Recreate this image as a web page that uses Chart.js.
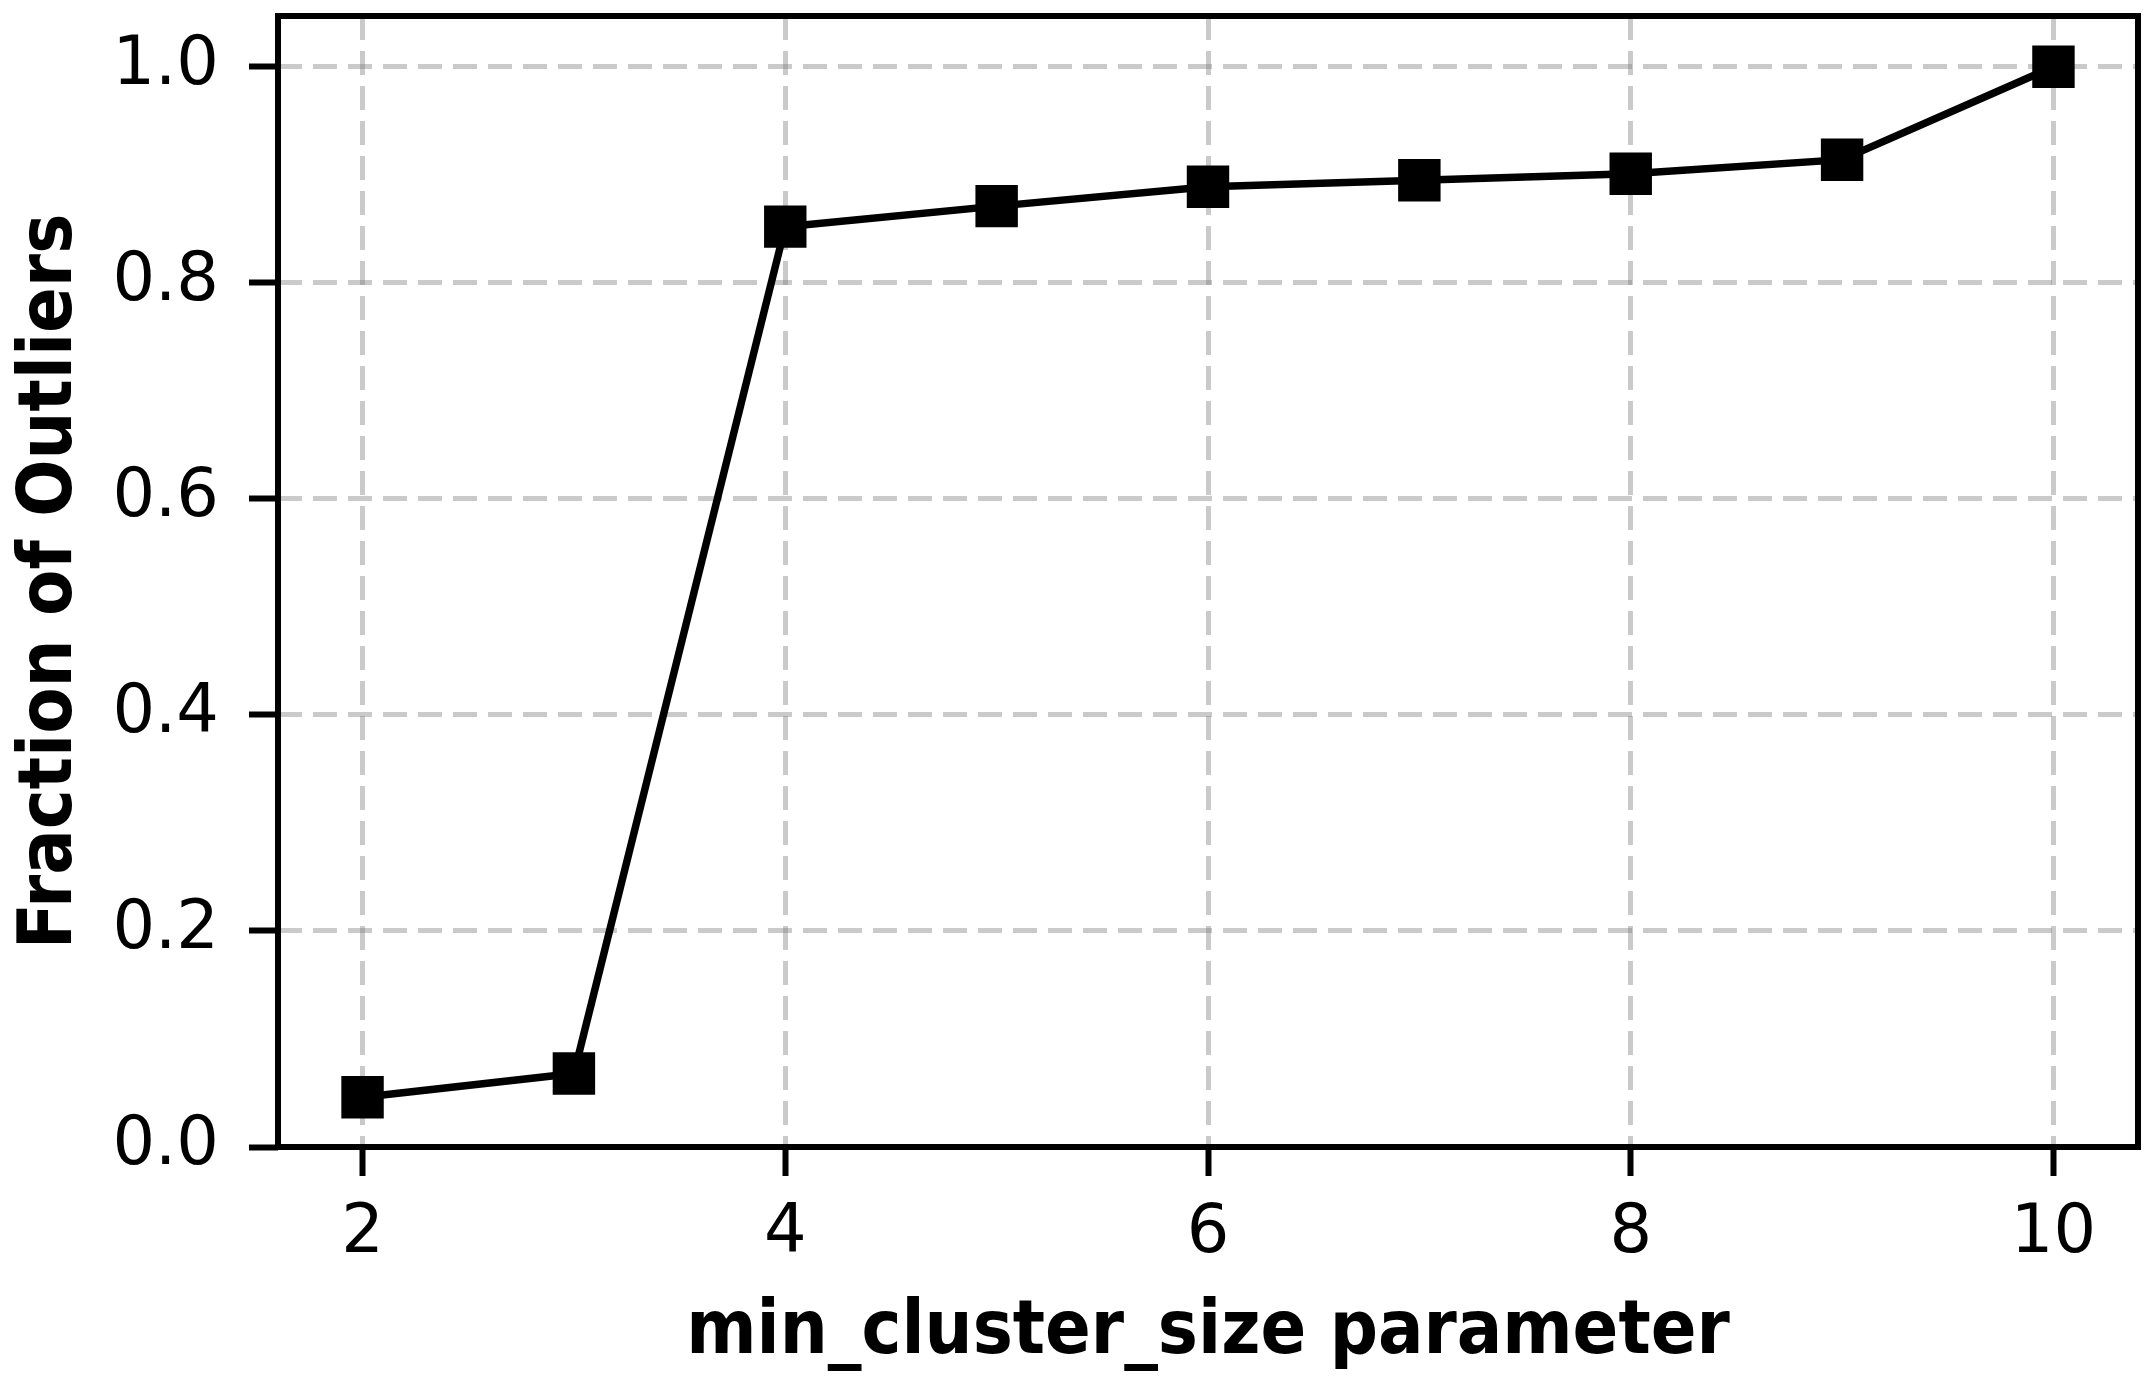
<!DOCTYPE html>
<html>
<head>
<meta charset="utf-8">
<script src="https://cdn.jsdelivr.net/npm/chart.js@4/dist/chart.umd.min.js"></script>
<style>
  body { margin: 0; background: #fff; }
  canvas { display: block; }
</style>
</head>
<body>
<canvas id="outlierChart" width="2155" height="1379"></canvas>
<script>
// values
const minClusterSize = [2, 3, 4, 5, 6, 7, 8, 9, 10];
const outlierFraction = [0.046, 0.068, 0.852, 0.871, 0.889, 0.895, 0.901, 0.914, 1.0];
const xTickValues = [2, 4, 6, 8, 10];
const yTickValues = [0.0, 0.2, 0.4, 0.6, 0.8, 1.0];

const FONT = "'DejaVu Sans', sans-serif";
// the axis titles in the reference are set in the condensed cut
const TITLE_FONT = "'DejaVu Sans Condensed', 'DejaVu Sans', sans-serif";

// all four spines, drawn on top like matplotlib does
const frameBox = {
    id: "frameBox",
    afterDatasetsDraw(chart) {
        const a = chart.chartArea;
        const ctx = chart.ctx;
        ctx.save();
        ctx.strokeStyle = "#000";
        ctx.lineWidth = 6;
        ctx.setLineDash([]);
        ctx.strokeRect(a.left, a.top, a.right - a.left, a.bottom - a.top);
        ctx.restore();
    }
};

const gridStyle = {
    color: "rgba(128, 128, 128, 0.42)",
    lineWidth: 5,
    tickColor: "#000",
    tickWidth: 6,
    tickLength: 29,
    tickBorderDash: []
};

// v4 takes the grid line dash from border.dash
const borderStyle = { display: false, dash: [24, 11] };

new Chart(document.getElementById("outlierChart").getContext("2d"), {
    type: "line",
    data: {
        labels: minClusterSize,
        datasets: [{
            data: minClusterSize.map((x, i) => ({ x: x, y: outlierFraction[i] })),
            borderColor: "#000",
            backgroundColor: "#000",
            borderWidth: 7.5,
            tension: 0,
            pointStyle: "rect",
            pointRadius: 30,
            pointHoverRadius: 30,
            pointBorderWidth: 0,
            clip: false
        }]
    },
    options: {
        responsive: false,
        devicePixelRatio: 1,
        animation: false,
        layout: {
            autoPadding: false,
            padding: { left: 0, top: 16, right: 17, bottom: 0 }
        },
        plugins: {
            legend: { display: false },
            tooltip: { enabled: false }
        },
        scales: {
            x: {
                type: "linear",
                min: 1.6,
                max: 10.4,
                afterBuildTicks: (scale) => { scale.ticks = xTickValues.map(v => ({ value: v })); },
                afterFit: (scale) => {
                    scale.height = 232;
                    scale.paddingLeft = 0;
                    scale.paddingRight = 0;
                },
                grid: gridStyle,
                border: borderStyle,
                ticks: {
                    color: "#000",
                    font: { family: FONT, size: 67 },
                    padding: 18,
                    maxRotation: 0,
                    callback: (v) => String(v)
                },
                title: {
                    display: true,
                    text: "min_cluster_size parameter",
                    color: "#000",
                    font: { family: TITLE_FONT, size: 75, weight: "bold" },
                    padding: { top: 0, bottom: 0 }
                }
            },
            y: {
                type: "linear",
                min: 0,
                max: 1.047,
                afterBuildTicks: (scale) => { scale.ticks = yTickValues.map(v => ({ value: v })); },
                afterFit: (scale) => {
                    scale.width = 278;
                    scale.paddingTop = 0;
                    scale.paddingBottom = 0;
                },
                grid: gridStyle,
                border: borderStyle,
                ticks: {
                    color: "#000",
                    font: { family: FONT, size: 67 },
                    padding: 30,
                    callback: (v) => Number(v).toFixed(1)
                },
                title: {
                    display: true,
                    text: "Fraction of Outliers",
                    color: "#000",
                    font: { family: TITLE_FONT, size: 75, weight: "bold" },
                    padding: { top: 7, bottom: 0 }
                }
            }
        }
    },
    plugins: [frameBox]
});
</script>
</body>
</html>
